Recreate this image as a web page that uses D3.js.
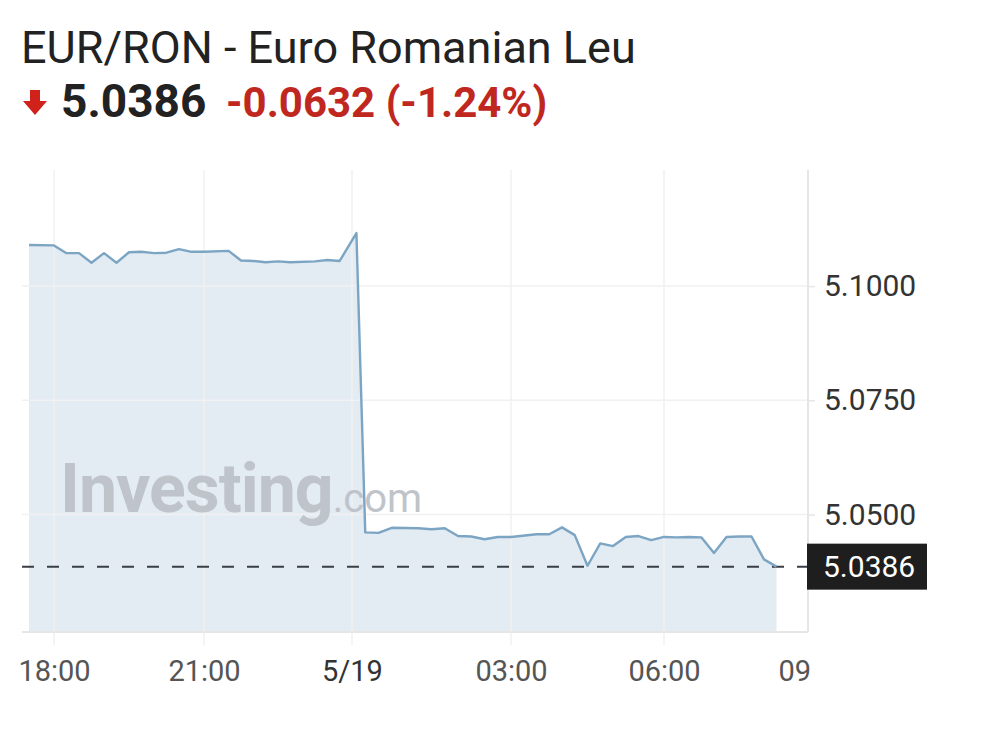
<!DOCTYPE html>
<html>
<head>
<meta charset="utf-8">
<script src="https://d3js.org/d3.v7.min.js"></script>
<style>
  body { margin: 0; background: #fff; }
  svg { font-family: Roboto, "Noto Sans", sans-serif; }
</style>
</head>
<body>
<svg id="chart" width="984" height="740"></svg>
<script>
// quotes, 15 minute bars (some missing)
var times = [
  "5/18 17:30","5/18 18:00","5/18 18:15","5/18 18:30","5/18 18:45","5/18 19:00","5/18 19:15",
  "5/18 19:30","5/18 19:45","5/18 20:00","5/18 20:15","5/18 20:30","5/18 20:45","5/18 21:00",
  "5/18 21:30","5/18 21:45","5/18 22:00","5/18 22:15","5/18 22:30","5/18 22:45","5/18 23:15",
  "5/18 23:30","5/18 23:45",
  "5/19 00:05","5/19 00:15","5/19 00:30","5/19 00:45","5/19 01:15","5/19 01:30","5/19 01:45",
  "5/19 02:00","5/19 02:15","5/19 02:30","5/19 02:45","5/19 03:00","5/19 03:30","5/19 03:45",
  "5/19 04:00","5/19 04:15","5/19 04:30","5/19 04:45","5/19 05:00","5/19 05:15","5/19 05:30",
  "5/19 05:45","5/19 06:00","5/19 06:15","5/19 06:30","5/19 06:45","5/19 07:00","5/19 07:15",
  "5/19 07:30","5/19 07:45","5/19 08:00","5/19 08:15"
];
var prices = [
  5.1090, 5.1089, 5.1072, 5.1072, 5.1051, 5.1072, 5.1051,
  5.1074, 5.1075, 5.1072, 5.1073, 5.1081, 5.1075, 5.1075,
  5.1077, 5.1056, 5.1055, 5.1052, 5.1054, 5.1052, 5.1054,
  5.1057, 5.1055,
  5.1116, 5.0461, 5.0460, 5.0471, 5.0470, 5.0468, 5.0470,
  5.0453, 5.0452, 5.0446, 5.0451, 5.0451, 5.0457, 5.0457,
  5.0472, 5.0455, 5.0388, 5.0437, 5.0431, 5.0451, 5.0453,
  5.0444, 5.0451, 5.0450, 5.0451, 5.0450, 5.0416, 5.0451,
  5.0452, 5.0452, 5.0402, 5.0386
];
var xTickTimes = ["5/18 18:00","5/18 21:00","5/19 00:00","5/19 03:00","5/19 06:00","5/19 09:00"];
var xTickLabels = ["18:00","21:00","5/19","03:00","06:00","09:00"];
var yTicks = [5.05, 5.075, 5.1];
var lastPrice = 5.0386;
var change = "-0.0632";
var changePct = "(-1.24%)";
var title = "EUR/RON - Euro Romanian Leu";

var parse = d3.timeParse("%m/%d %H:%M");
var data = times.map(function(t, i) { return {t: parse(t), v: prices[i]}; });
var tickDates = xTickTimes.map(parse);

var svg = d3.select("#chart");
var plotLeft = 22, plotRight = 808, plotTop = 170, plotBottom = 632;

// the x axis is spaced by bar index on the site, so the time scale is piecewise
var x = d3.scaleTime()
    .domain(tickDates)
    .range([54, 204, 352, 511, 664, 814]);
var y = d3.scaleLinear()
    .domain([5.0243, 5.1254])
    .range([plotBottom, plotTop]);

// header
svg.append("text")
    .attr("x", 21).attr("y", 63)
    .attr("font-size", 45).attr("fill", "#222")
    .text(title);
svg.append("path")
    .attr("d", "M30,90 h10 v11 h7 l-12,14 l-12,-14 h7 z")
    .attr("fill", "#d0211b");
svg.append("text")
    .attr("x", 61).attr("y", 117)
    .attr("font-size", 46).attr("font-weight", 700).attr("fill", "#222")
    .text(lastPrice.toFixed(4));
svg.append("text")
    .attr("x", 226).attr("y", 117)
    .attr("font-size", 42).attr("font-weight", 700).attr("fill", "#c0281f")
    .text(change + " " + changePct);

// area fill
var area = d3.area()
    .x(function(d) { return x(d.t); })
    .y0(plotBottom)
    .y1(function(d) { return y(d.v); });
svg.append("path")
    .datum(data)
    .attr("d", area)
    .attr("fill", "#e3ebf3");

// grid
svg.append("g")
    .selectAll("line")
    .data(yTicks)
    .join("line")
    .attr("x1", plotLeft).attr("x2", plotRight)
    .attr("y1", function(d) { return y(d); })
    .attr("y2", function(d) { return y(d); })
    .attr("stroke", "#f1f1f1").attr("stroke-width", 1.5);
svg.append("g")
    .selectAll("line")
    .data(tickDates.slice(0, 5))
    .join("line")
    .attr("x1", function(d) { return x(d); })
    .attr("x2", function(d) { return x(d); })
    .attr("y1", plotTop).attr("y2", plotBottom + 13)
    .attr("stroke", "#f0f0f0").attr("stroke-width", 1.5);

// watermark
var wm = svg.append("text")
    .attr("x", 60).attr("y", 512)
    .attr("fill", "#bfc4ca");
wm.append("tspan").attr("font-size", 68).attr("font-weight", 700)
    .attr("letter-spacing", -1).text("Investing");
wm.append("tspan").attr("font-size", 40).attr("font-weight", 400).text(".com");

// frame
svg.append("line")
    .attr("x1", plotLeft).attr("x2", plotRight)
    .attr("y1", plotBottom).attr("y2", plotBottom)
    .attr("stroke", "#e6e6e6").attr("stroke-width", 2);
svg.append("line")
    .attr("x1", plotRight).attr("x2", plotRight)
    .attr("y1", plotTop).attr("y2", plotBottom)
    .attr("stroke", "#e6e6e6").attr("stroke-width", 2);

// last price dashed line
svg.append("line")
    .attr("x1", plotLeft).attr("x2", plotRight)
    .attr("y1", y(lastPrice)).attr("y2", y(lastPrice))
    .attr("stroke", "#3a3f45").attr("stroke-width", 2)
    .attr("stroke-dasharray", "12,13");

// price line
var line = d3.line()
    .x(function(d) { return x(d.t); })
    .y(function(d) { return y(d.v); });
svg.append("path")
    .datum(data)
    .attr("d", line)
    .attr("fill", "none")
    .attr("stroke", "#7ca5c4")
    .attr("stroke-width", 2.4)
    .attr("stroke-linejoin", "round");

// y axis on right
var yAxis = d3.axisRight(y)
    .tickValues(yTicks)
    .tickSize(6)
    .tickPadding(9)
    .tickFormat(d3.format(".4f"));
var gy = svg.append("g")
    .attr("transform", "translate(" + (plotRight + 1) + ",0)")
    .call(yAxis);
gy.select(".domain").remove();
gy.selectAll(".tick line").attr("stroke", "#e6e6e6").attr("stroke-width", 1.5);
gy.selectAll(".tick text")
    .attr("font-size", 30).attr("fill", "#333")
    .attr("font-family", "Roboto, sans-serif");

// last price badge
svg.append("rect")
    .attr("x", 807).attr("y", y(lastPrice) - 23)
    .attr("width", 120).attr("height", 46)
    .attr("fill", "#1e1e1e");
svg.append("text")
    .attr("x", 823).attr("y", y(lastPrice))
    .attr("dy", "0.35em")
    .attr("font-size", 30).attr("fill", "#fff")
    .text(lastPrice.toFixed(4));

// x axis labels (clipped at the right edge like the original)
svg.append("clipPath").attr("id", "xclip")
    .append("rect").attr("x", 0).attr("y", 640).attr("width", 810).attr("height", 80);
var xAxis = d3.axisBottom(x)
    .tickValues(tickDates)
    .tickSize(0)
    .tickPadding(0)
    .tickFormat(function(d, i) { return xTickLabels[i]; });
var gx = svg.append("g")
    .attr("clip-path", "url(#xclip)")
    .append("g")
    .attr("transform", "translate(0,660)")
    .call(xAxis);
gx.select(".domain").remove();
gx.selectAll(".tick text")
    .attr("font-size", 29)
    .attr("font-family", "Roboto, sans-serif")
    .attr("fill", function(d, i) { return i === 2 ? "#333" : "#555"; });
</script>
</body>
</html>
